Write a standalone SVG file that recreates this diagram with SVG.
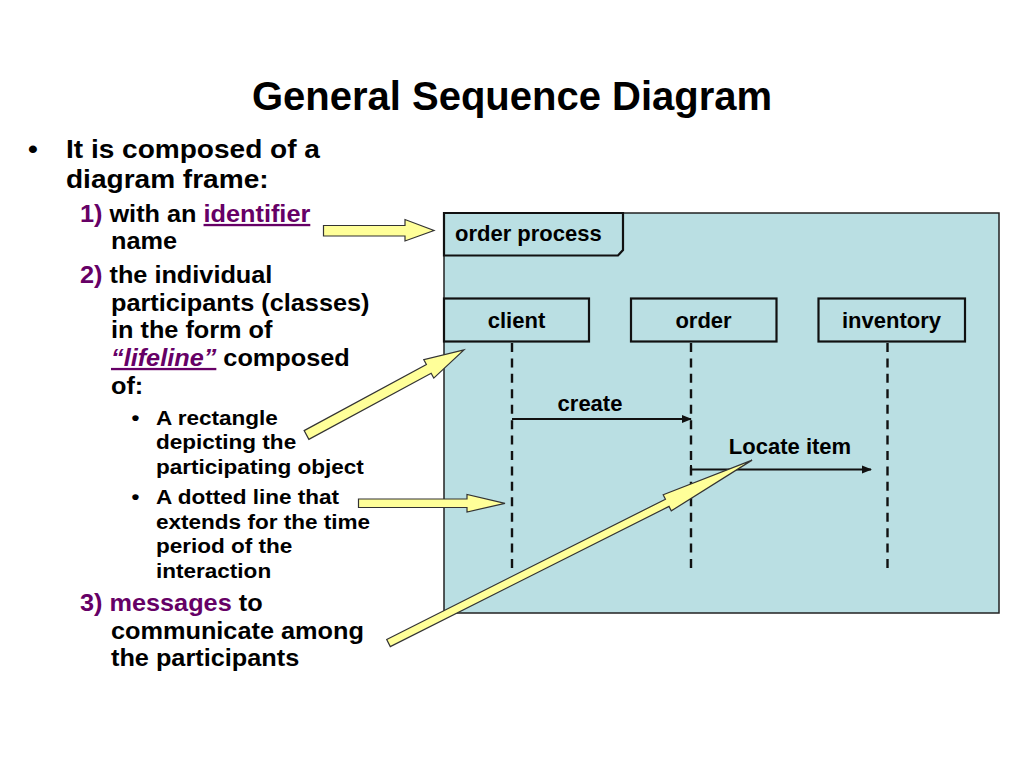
<svg xmlns="http://www.w3.org/2000/svg" width="1024" height="768" viewBox="0 0 1024 768">
<defs>
<style>
.t{font-family:"Liberation Sans",Arial,sans-serif;font-weight:bold;fill:#000}
.p{fill:#660066}
.u{text-decoration:underline}
.lbl{font-family:"Liberation Sans",Arial,sans-serif;font-weight:bold;font-size:22px;fill:#000}
.box{fill:none;stroke:#111;stroke-width:2.2}
.life{stroke:#111;stroke-width:2.4;stroke-dasharray:9 6.43;fill:none}
.msg{stroke:#111;stroke-width:2;fill:none}
.ya{fill:#ffff99;stroke:#333;stroke-width:1.2;stroke-linejoin:miter}
</style>
<marker id="ah" markerWidth="10" markerHeight="10" refX="9" refY="5" orient="auto" markerUnits="userSpaceOnUse">
<path d="M0,1 L10,5 L0,9 Z" fill="#111"/>
</marker>
</defs>
<rect width="1024" height="768" fill="#fff"/>

<g id="title">
<text class="t" x="512" y="110" font-size="40" text-anchor="middle">General Sequence Diagram</text>
</g>

<g id="bullets" transform="scale(1.1,1)">
<text class="t" font-size="25.5" x="25.5" y="158">•</text>
<text class="t" font-size="25.5" x="60" y="158">It is composed of a</text>
<text class="t" font-size="25.5" x="60" y="188">diagram frame:</text>
<text class="t" font-size="23" x="72.7" y="222"><tspan class="p">1)</tspan> with an <tspan class="p u">identifier</tspan></text>
<text class="t" font-size="23" x="100.9" y="249">name</text>
<text class="t" font-size="23" x="72.7" y="283"><tspan class="p">2)</tspan> the individual</text>
<text class="t" font-size="23" x="100.9" y="311">participants (classes)</text>
<text class="t" font-size="23" x="100.9" y="338">in the form of</text>
<text class="t" font-size="23" x="100.9" y="366"><tspan class="p u" font-style="italic">“lifeline”</tspan> composed</text>
<text class="t" font-size="23" x="100.9" y="394">of:</text>
<text class="t" font-size="20.5" x="119.5" y="425">•</text>
<text class="t" font-size="20.5" x="141.8" y="425">A rectangle</text>
<text class="t" font-size="20.5" x="141.8" y="449">depicting the</text>
<text class="t" font-size="20.5" x="141.8" y="474">participating object</text>
<text class="t" font-size="20.5" x="119.5" y="504">•</text>
<text class="t" font-size="20.5" x="141.8" y="504">A dotted line that</text>
<text class="t" font-size="20.5" x="141.8" y="529">extends for the time</text>
<text class="t" font-size="20.5" x="141.8" y="553">period of the</text>
<text class="t" font-size="20.5" x="141.8" y="578">interaction</text>
<text class="t" font-size="23" x="72.7" y="611"><tspan class="p">3) messages</tspan> to</text>
<text class="t" font-size="23" x="100.9" y="639">communicate among</text>
<text class="t" font-size="23" x="100.9" y="666">the participants</text>
</g>

<g id="frame">
<rect x="444" y="213" width="555" height="400" fill="#badfe3" stroke="#222" stroke-width="1.5"/>
<path d="M444,213 H623 V250 L618,255.5 H444 Z" class="box"/>
<text class="lbl" x="455" y="241">order process</text>
</g>

<g id="client">
<rect x="444" y="298.5" width="145" height="43" class="box"/>
<text class="lbl" x="516.5" y="328" text-anchor="middle">client</text>
</g>
<g id="order">
<rect x="631" y="298.5" width="145.5" height="43" class="box"/>
<text class="lbl" x="703.5" y="328" text-anchor="middle">order</text>
</g>
<g id="inventory">
<rect x="818.5" y="298.5" width="146.5" height="43" class="box"/>
<text class="lbl" x="891.5" y="328" text-anchor="middle">inventory</text>
</g>

<g id="connectors">
<line class="life" x1="512" y1="343" x2="512" y2="568"/>
<line class="life" x1="691" y1="343" x2="691" y2="568"/>
<line class="life" x1="887.5" y1="343" x2="887.5" y2="568"/>
<line class="msg" x1="512" y1="419" x2="691" y2="419" marker-end="url(#ah)"/>
<text class="lbl" x="590" y="411" text-anchor="middle">create</text>
<line class="msg" x1="691" y1="465" x2="691" y2="474"/>
<line class="msg" x1="691" y1="469.5" x2="871" y2="469.5" marker-end="url(#ah)"/>
<text class="lbl" x="790" y="454" text-anchor="middle">Locate item</text>

<polygon class="ya" points="323.5,225.5 405,225.5 405,219.5 434,230.5 405,241 405,236 323.5,236"/>
<polygon class="ya" transform="translate(306.5,435) rotate(-28.4)" points="0,-5 139,-5 139,-10.5 179,0 139,10.5 139,5 0,5"/>
<polygon class="ya" points="358.5,499 467,499 467,494.5 505,503.3 467,512 467,507.5 358.5,507.5"/>
<polygon class="ya" transform="translate(388.5,643) rotate(-26.7)" points="0,-4 312,-4 312,-9 407,0 312,9 312,4 0,4"/>
</g>
</svg>
